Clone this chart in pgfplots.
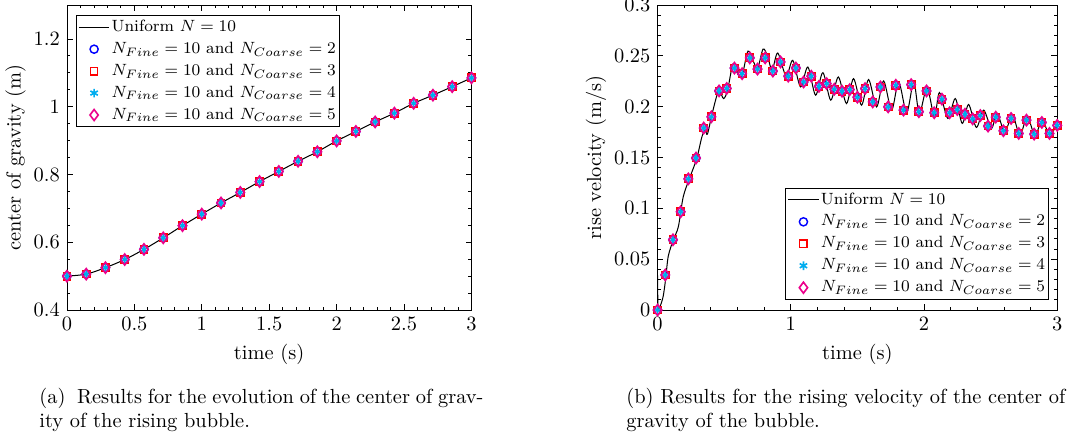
\documentclass[border=0pt]{standalone}
\usepackage{pgfplots}
\usepackage{pgfplotstable}
\pgfplotsset{compat=1.18}

% center of gravity, sampled markers (t, z)
\pgfplotstableread{
t z
0.0000 0.500
0.1429 0.506
0.2857 0.525
0.4286 0.549
0.5714 0.579
0.7143 0.613
0.8571 0.649
1.0000 0.683
1.1429 0.716
1.2857 0.747
1.4286 0.779
1.5714 0.809
1.7143 0.839
1.8571 0.867
2.0000 0.899
2.1429 0.927
2.2857 0.955
2.4286 0.981
2.5714 1.010
2.7143 1.034
2.8571 1.059
3.0000 1.085
}\cogdata

% rise velocity, sampled markers (t, v)
\pgfplotstableread{
t v
0.0000 0.0000
0.0577 0.0345
0.1154 0.0691
0.1731 0.0966
0.2308 0.1290
0.2885 0.1495
0.3462 0.1790
0.4038 0.1900
0.4615 0.2155
0.5192 0.2180
0.5769 0.2380
0.6346 0.2325
0.6923 0.2480
0.7500 0.2370
0.8077 0.2480
0.8654 0.2350
0.9231 0.2440
0.9808 0.2300
1.0385 0.2380
1.0962 0.2243
1.1538 0.2300
1.2115 0.2200
1.2692 0.2227
1.3269 0.2172
1.3846 0.2152
1.4423 0.2168
1.5000 0.2093
1.5577 0.2178
1.6154 0.2047
1.6731 0.2194
1.7308 0.1998
1.7885 0.2211
1.8462 0.1966
1.9038 0.2217
1.9615 0.1950
2.0192 0.2155
2.0769 0.1940
2.1346 0.2074
2.1923 0.1940
2.2500 0.1972
2.3077 0.1926
2.3654 0.1880
2.4231 0.1913
2.4808 0.1809
2.5385 0.1897
2.5962 0.1763
2.6538 0.1884
2.7115 0.1737
2.7692 0.1868
2.8269 0.1730
2.8846 0.1845
2.9423 0.1737
3.0000 0.1816
}\veldata

% rise velocity, uniform N=10 (peaks and troughs of the curve)
\pgfplotstableread{
t v
0.002 0.0000
0.020 0.0040
0.042 0.0135
0.060 0.0300
0.080 0.0528
0.118 0.0690
0.156 0.0820
0.193 0.1116
0.244 0.1310
0.294 0.1490
0.332 0.1700
0.357 0.1770
0.374 0.1730
0.407 0.1917
0.445 0.2110
0.465 0.2160
0.495 0.2080
0.525 0.2160
0.566 0.2420
0.600 0.2325
0.633 0.2300
0.679 0.2547
0.721 0.2440
0.751 0.2375
0.792 0.2567
0.827 0.2490
0.860 0.2358
0.902 0.2528
0.965 0.2300
1.015 0.2456
1.073 0.2194
1.128 0.2390
1.186 0.2113
1.241 0.2335
1.300 0.2064
1.357 0.2292
1.418 0.2031
1.471 0.2276
1.531 0.2015
1.584 0.2267
1.644 0.1998
1.697 0.2253
1.757 0.1966
1.810 0.2243
1.870 0.1943
1.923 0.2243
1.965 0.1933
2.023 0.2188
2.078 0.1900
2.116 0.2139
2.179 0.1884
2.235 0.2080
2.287 0.1835
2.335 0.2022
2.393 0.1796
2.448 0.1966
2.506 0.1786
2.549 0.1933
2.606 0.1753
2.664 0.1917
2.720 0.1720
2.775 0.1900
2.833 0.1720
2.888 0.1868
2.943 0.1720
3.000 0.1835
}\uniformvel

\pgfplotsset{
  matstyle/.style={
    scale only axis,
    xmin=0, xmax=3,
    tick align=inside,
    xtick pos=both, ytick pos=both,
    major tick length=2.8pt,
    minor tick length=1.6pt,
    every tick/.style={black, line width=0.4pt},
    ylabel style={yshift=-3pt},
    legend cell align=left,
    legend style={draw=black, inner xsep=1pt, inner ysep=0.3pt, row sep=0pt,
      font=\fontsize{8}{9.5}\selectfont,
      nodes={inner xsep=0.8pt, inner ysep=1.85pt}},
    legend image code/.code={%
      \draw[mark repeat=2,mark phase=2] plot coordinates {(0pt,0pt) (7.5pt,0pt) (15pt,0pt)};},
  },
  mcirc/.style={only marks, mark=o, blue, mark size=2pt, line width=0.7pt},
  msq/.style={only marks, mark=square, red, mark size=1.8pt, line width=0.7pt},
  mast/.style={only marks, mark=asterisk, cyan, mark size=2.1pt, line width=0.8pt},
  mdia/.style={only marks, mark=diamond, magenta, mark size=2.7pt, line width=0.8pt},
}

\begin{document}
\begin{tikzpicture}
\useasboundingbox (0,0) rectangle (523.3pt,-215.1pt);

\begin{axis}[matstyle,
  at={(32.8pt,-151.9pt)}, anchor=south west,
  width=198.2pt, height=149.45pt,
  ymin=0.4, ymax=1.3,
  xtick={0,0.5,...,3}, ytick={0.4,0.6,0.8,1,1.2},
  minor x tick num=4, minor y tick num=3,
  xlabel={time (s)}, ylabel={center of gravity (m)},
  legend style={at={(0.022,0.967)}, anchor=north west},
]
\addplot[black, line width=0.5pt, smooth] table[x=t,y=z] {\cogdata};
\addplot[mcirc] table[x=t,y=z] {\cogdata};
\addplot[msq] table[x=t,y=z] {\cogdata};
\addplot[mast] table[x=t,y=z] {\cogdata};
\addplot[mdia] table[x=t,y=z] {\cogdata};
\legend{Uniform $N=10$,
  $N_{Fine}=10$ and $N_{Coarse}=2$,
  $N_{Fine}=10$ and $N_{Coarse}=3$,
  $N_{Fine}=10$ and $N_{Coarse}=4$,
  $N_{Fine}=10$ and $N_{Coarse}=5$}
\end{axis}

\begin{axis}[matstyle,
  at={(322.2pt,-151.9pt)}, anchor=south west,
  width=195.8pt, height=149.45pt,
  ymin=0, ymax=0.3,
  xtick={0,1,2,3}, ytick={0,0.05,...,0.3},
  minor x tick num=4, minor y tick num=4,
  yticklabel style={/pgf/number format/fixed},
  xlabel={time (s)}, ylabel={rise velocity (m/s)},
  legend style={at={(0.98,0.034)}, anchor=south east},
]
\addplot[black, line width=0.5pt, smooth] table[x=t,y=v] {\uniformvel};
\addplot[mcirc] table[x=t,y=v] {\veldata};
\addplot[msq] table[x=t,y=v] {\veldata};
\addplot[mast] table[x=t,y=v] {\veldata};
\addplot[mdia] table[x=t,y=v] {\veldata};
\addplot[black, line width=0.5pt, forget plot] coordinates {(0,0.034) (0.002,0)};
\legend{Uniform $N=10$,
  $N_{Fine}=10$ and $N_{Coarse}=2$,
  $N_{Fine}=10$ and $N_{Coarse}=3$,
  $N_{Fine}=10$ and $N_{Coarse}=4$,
  $N_{Fine}=10$ and $N_{Coarse}=5$}
\end{axis}

\node[anchor=base west, align=left, inner sep=0pt] at (19.1pt,-209.7pt)
  {\makebox[217.6pt][s]{(a)\ \ Results for the evolution of the center of grav-}\\ity of the rising bubble.};
\node[anchor=base west, align=left, inner sep=0pt] at (306.7pt,-209.7pt)
  {(b) Results for the rising velocity of the center of\\gravity of the bubble.};
\end{tikzpicture}
\end{document}
